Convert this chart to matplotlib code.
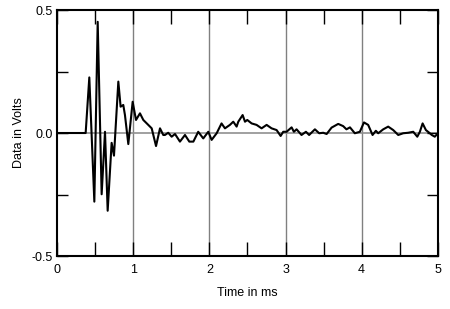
import matplotlib
matplotlib.use("Agg")
import matplotlib.pyplot as plt
import numpy as np

# impulse response (time in ms, data in volts)
t = [0.0, 0.376, 0.424, 0.49, 0.534, 0.586, 0.63, 0.665, 0.717, 0.748, 0.805,
     0.835, 0.87, 0.892, 0.936, 0.993, 1.037, 1.089, 1.133, 1.198, 1.243, 1.30,
     1.352, 1.395, 1.417, 1.46, 1.505, 1.549, 1.614, 1.68, 1.737, 1.79, 1.854,
     1.92, 1.986, 2.03, 2.096, 2.16, 2.205, 2.27, 2.314, 2.358, 2.38, 2.437,
     2.468, 2.498, 2.555, 2.62, 2.686, 2.752, 2.817, 2.883, 2.936, 2.97, 3.014,
     3.08, 3.11, 3.145, 3.21, 3.268, 3.31, 3.386, 3.442, 3.495, 3.54, 3.605,
     3.692, 3.757, 3.80, 3.846, 3.91, 3.976, 4.03, 4.085, 4.143, 4.186, 4.217,
     4.283, 4.348, 4.414, 4.48, 4.545, 4.61, 4.677, 4.73, 4.764, 4.80, 4.843,
     4.887, 4.92, 4.96, 5.0]
v = [0.0, 0.0, 0.226, -0.279, 0.452, -0.249, 0.005, -0.316, -0.04, -0.092, 0.209,
     0.107, 0.114, 0.073, -0.045, 0.127, 0.053, 0.08, 0.053, 0.033, 0.019, -0.053,
     0.019, -0.008, -0.008, 0.001, -0.015, -0.004, -0.035, -0.008, -0.035, -0.035, 0.005,
     -0.022, 0.005, -0.028, -0.001, 0.039, 0.019, 0.033, 0.046, 0.026, 0.046, 0.073,
     0.046, 0.053, 0.039, 0.033, 0.019, 0.033, 0.019, 0.012, -0.012, 0.005, 0.005,
     0.023, 0.005, 0.015, -0.008, 0.005, -0.008, 0.015, -0.001, 0.001, -0.004, 0.022,
     0.037, 0.028, 0.015, 0.023, -0.001, 0.005, 0.043, 0.033, -0.008, 0.009, -0.001,
     0.015, 0.026, 0.012, -0.008, -0.001, 0.001, 0.005, -0.015, 0.005, 0.039, 0.012,
     0.001, -0.008, -0.015, -0.001]

xticks = [0, 1, 2, 3, 4, 5]
yticks = [-0.5, 0.0, 0.5]
ylabels = ["-0.5", "0.0", "0.5"]

plt.rcParams['font.family'] = ['Liberation Sans', 'DejaVu Sans']

fig = plt.figure(figsize=(4.5, 3.09), dpi=100)
ax = fig.add_axes([0.1267, 0.1715, 0.8463, 0.7961])

for g in [1, 2, 3, 4]:
    ax.axvline(g, color='#808080', lw=1.0, zorder=1)
ax.axhline(0, color='#909090', lw=1.2, zorder=1)
ax.plot(t, v, color='black', lw=1.5, zorder=3, solid_joinstyle='round')

ax.set_xlim(0, 5)
ax.set_ylim(-0.5, 0.5)
ax.set_xticks(xticks)
ax.set_xticks(np.arange(0.5, 5, 1.0), minor=True)
ax.set_yticks(yticks)
ax.set_yticklabels(ylabels)
ax.set_yticks([-0.25, 0.25], minor=True)

ax.tick_params(axis='x', which='both', direction='in', top=True, length=10, width=1,
               labelsize=9, pad=6)
ax.tick_params(axis='y', which='both', direction='in', right=True, length=8, width=1,
               labelsize=9, pad=3)
for s in ax.spines.values():
    s.set_linewidth(1.5)

ax.set_xlabel("Time in ms", fontsize=9, labelpad=8)
ax.set_ylabel("Data in Volts", fontsize=9, labelpad=5)

fig.savefig("out.png", dpi=100)
